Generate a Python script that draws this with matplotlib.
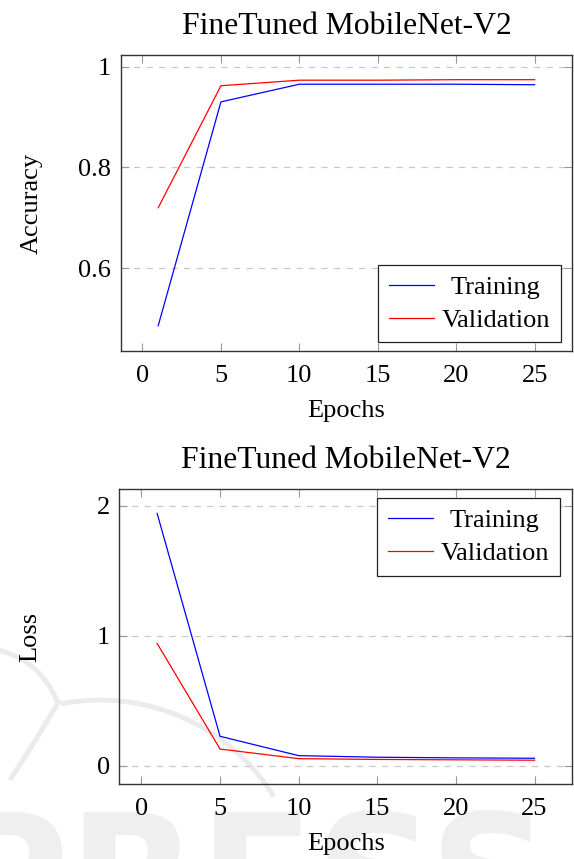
import numpy as np
import matplotlib
matplotlib.use("Agg")
import matplotlib.pyplot as plt
from matplotlib.patches import Arc
from matplotlib.lines import Line2D
from matplotlib.transforms import IdentityTransform

plt.rcParams['font.family'] = ['Liberation Serif', 'DejaVu Serif']
plt.rcParams['font.size'] = 19

# data
epochs = [1, 5, 10, 15, 20, 25]
train_acc = [0.486, 0.930, 0.965, 0.965, 0.965, 0.964]
val_acc = [0.720, 0.962, 0.973, 0.973, 0.974, 0.974]
train_loss = [1.94, 0.226, 0.077, 0.065, 0.060, 0.057]
val_loss = [0.94, 0.128, 0.054, 0.048, 0.045, 0.042]

title = "FineTuned MobileNet-V2"
xticks = [0, 5, 10, 15, 20, 25]
acc_ticks = [0.6, 0.8, 1.0]
acc_labels = ["0.6", "0.8", "1"]
loss_ticks = [0, 1, 2]
loss_labels = ["0", "1", "2"]

W, H = 574, 859
fig = plt.figure(figsize=(W / 100, H / 100), dpi=100)

# faint publisher watermark behind the plots (pixel coords, y up)
wm = "#ebebeb"
fig.text(-0.096, -0.0896, "PRESS", fontsize=122, fontweight="bold", family="DejaVu Sans",
         color="#efefef", ha="left", va="baseline", zorder=-1)
ident = IdentityTransform()
for a in [Arc((100, -46), 410, 410, theta1=32, theta2=101),
          Arc((-20, 129), 164, 164, theta1=20, theta2=82)]:
    a.set(transform=ident, color=wm, lw=3.6, zorder=-1)
    fig.add_artist(a)
fig.add_artist(Line2D([60, 35, 10], [159, 118, 79], transform=ident, color=wm, lw=3.6,
                      zorder=-1, solid_capstyle="butt"))

ax1 = fig.add_axes([0.210, 0.5914, 0.787, 0.3446])
ax2 = fig.add_axes([0.208, 0.0870, 0.789, 0.3438])
for ax in (ax1, ax2):
    ax.patch.set_alpha(0)


def style(ax, yt, yl, ylabel):
    ax.set_xlim(-1.4, 27.4)
    ax.set_xticks(xticks)
    ax.set_yticks(yt)
    ax.set_yticklabels(yl)
    ax.tick_params(direction="in", length=6, width=0.8, color="#999999",
                   top=True, right=True)
    ax.tick_params(axis="x", pad=10)
    ax.tick_params(axis="y", pad=7)
    ax.grid(axis="y", color="#c8c8c8", linestyle=(0, (5, 5)), linewidth=0.9)
    for s in ax.spines.values():
        s.set_color("#333333")
        s.set_linewidth(1.0)
    ax.set_title(title, pad=15)
    ax.set_xlabel("Epochs", labelpad=9.5)
    ax.set_ylabel(ylabel)
    ax.yaxis.set_label_coords(-0.172, 0.5)


def make_legend(ax, loc, anchor):
    leg = ax.legend(loc=loc, bbox_to_anchor=anchor, borderaxespad=0, fancybox=False,
                    edgecolor="#222222", framealpha=1, handlelength=1.7,
                    handletextpad=0.3, borderpad=0.4, labelspacing=0.35)
    leg.get_frame().set_linewidth(0.9)
    return leg


ax1.plot(epochs, train_acc, color="blue", lw=0.9, label="Training")
ax1.plot(epochs, val_acc, color="red", lw=0.9, label="Validation")
ax1.set_ylim(0.436, 1.023)
style(ax1, acc_ticks, acc_labels, "Accuracy")
leg1 = make_legend(ax1, "lower right", (0.974, 0.029))

ax2.plot(epochs, train_loss, color="blue", lw=0.9, label="Training")
ax2.plot(epochs, val_loss, color="red", lw=0.9, label="Validation")
ax2.set_ylim(-0.143, 2.128)
style(ax2, loss_ticks, loss_labels, "Loss")
leg2 = make_legend(ax2, "upper right", (0.972, 0.9685))

# centre the legend entries the way pgfplots does
fig.canvas.draw()
renderer = fig.canvas.get_renderer()
for leg in (leg1, leg2):
    texts = leg.get_texts()
    widths = [t.get_window_extent(renderer).width for t in texts]
    wmax = max(widths)
    for t, w in zip(texts, widths):
        t.set_x((wmax - w) / 2)

fig.savefig("out.png", dpi=100)
